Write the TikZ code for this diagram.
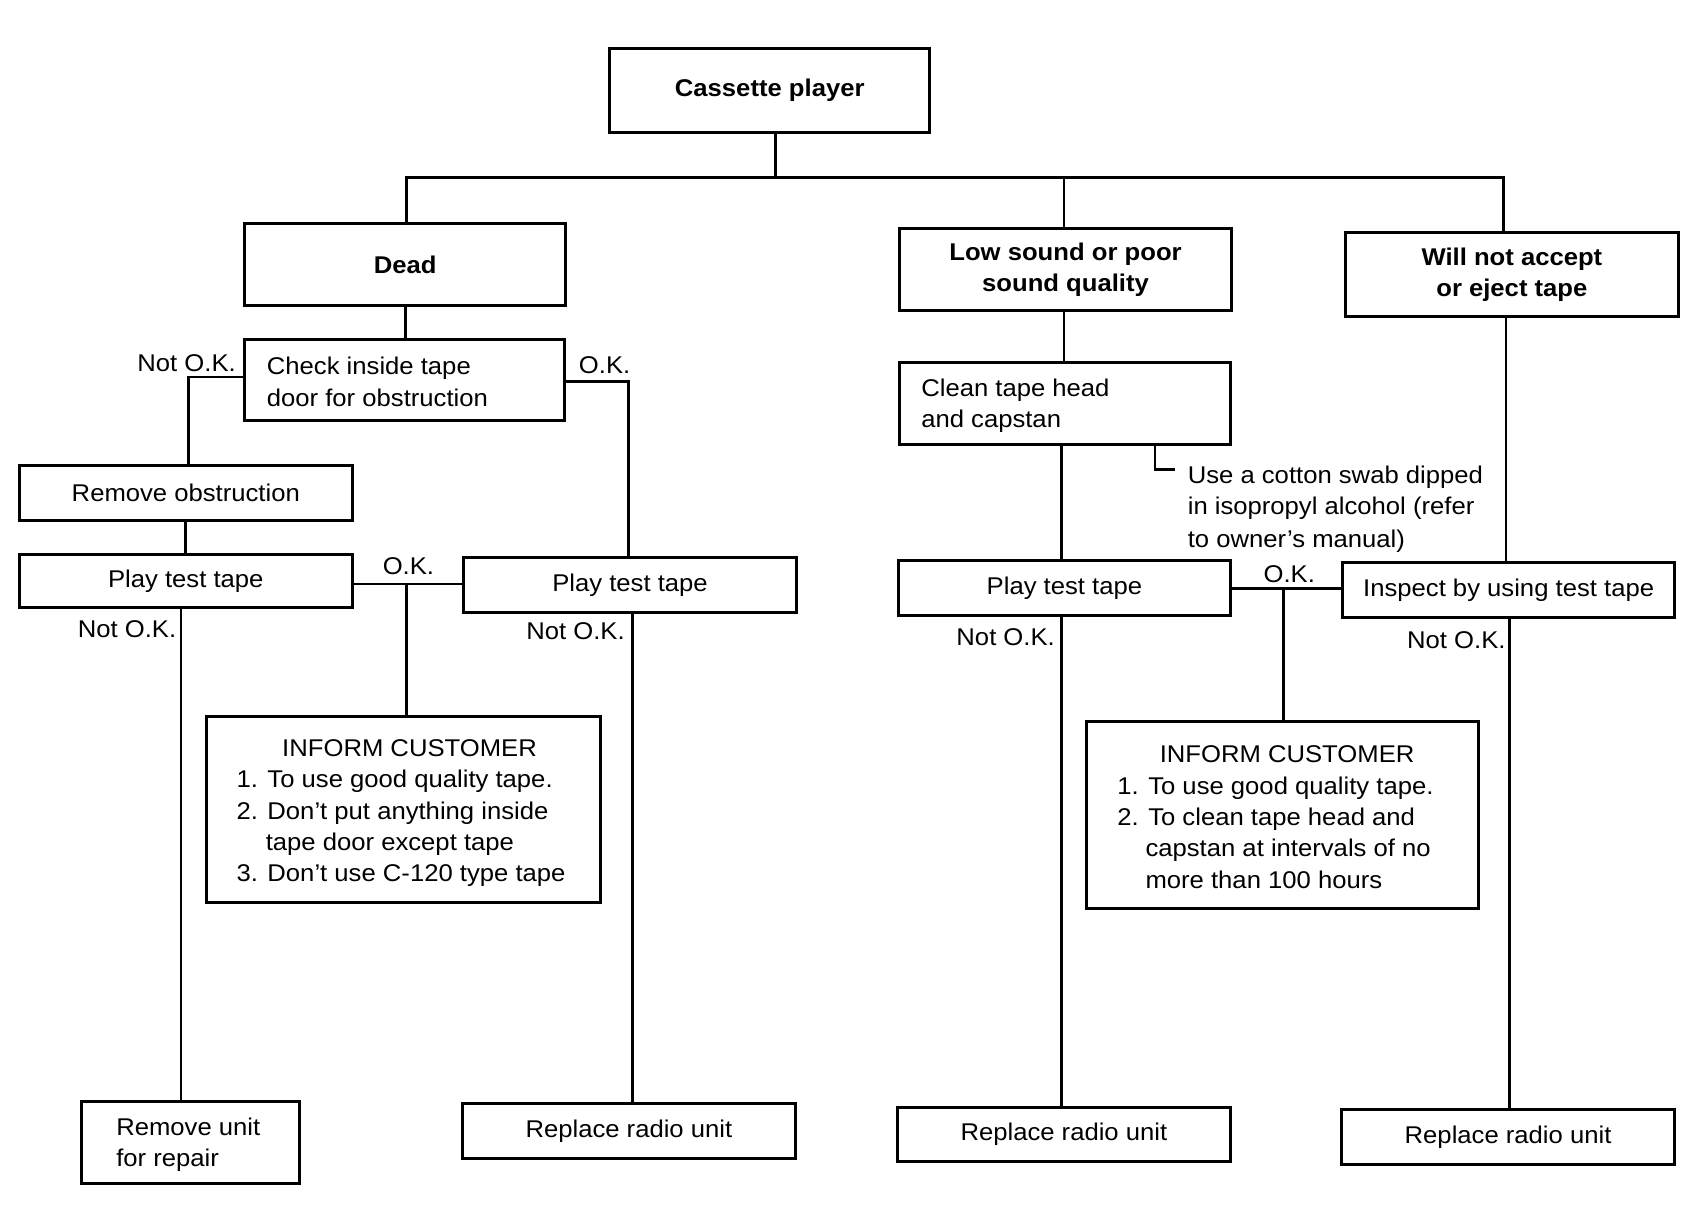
\documentclass[tikz,border=0pt]{standalone}
\usepackage{fontspec}
\setmainfont{Liberation Sans}[FakeStretch=1.06]
\newcommand\fsz{\fontsize{12.1pt}{15.8pt}\selectfont}
\newcommand\mybox[7]{%
  \pgfmathsetmacro\bw{(#4-#2)*0.5417}%
  \pgfmathsetmacro\bh{(#5-#3)*0.5417}%
  \node[boxst, minimum width=\bw pt, minimum height=\bh pt, #6] (#1) at ({(#2+#4)/2},{(#3+#5)/2}) {#7};}
\newcommand\tl[4]{\node[txt, anchor=base west] (#1) at (#2,#3) {#4};}
\begin{document}
\begin{tikzpicture}[x=0.5417pt,y=-0.5417pt,
  boxst/.style={draw, line width=1.5pt, inner sep=0pt, font=\fsz, align=center},
  hdr/.style={font=\fsz\bfseries},
  ln/.style={line width=1.4pt},
  txt/.style={inner sep=0pt, font=\fsz},
  lbl/.style={inner sep=0pt, font=\fsz}]
\useasboundingbox (0,0) rectangle (1567.3,1122.4);

% boxes
\mybox{cass}{563}{45}{858}{122}{hdr}{Cassette player}
\mybox{dead}{226}{206}{522}{282}{hdr}{Dead}
\mybox{check}{226}{313}{521}{388}{}{}
\mybox{remobs}{18}{430}{325}{480}{}{Remove obstruction}
\mybox{ptta}{18}{512}{325}{561}{}{Play test tape}
\mybox{pttb}{428}{515}{735}{565}{}{Play test tape}
\mybox{infa}{191}{661}{554}{833}{}{}
\mybox{remunit}{75}{1017}{276}{1092}{}{}
\mybox{repa}{427}{1019}{734}{1069}{}{Replace radio unit}
\mybox{low}{830}{211}{1137}{287}{hdr}{Low sound or poor\\sound quality}
\mybox{clean}{830}{335}{1136}{410}{}{}
\mybox{pttc}{829}{517}{1136}{568}{}{Play test tape}
\mybox{insp}{1239}{519}{1546}{570}{}{Inspect by using test tape}
\mybox{will}{1242}{215}{1549}{292}{hdr}{Will not accept\\or eject tape}
\mybox{infb}{1003}{666}{1365}{839}{}{}
\mybox{repc}{828}{1022}{1136}{1072}{}{Replace radio unit}
\mybox{repd}{1238}{1024}{1546}{1075}{}{Replace radio unit}

% texts inside boxes
\tl{chk1}{246}{346}{Check inside tape}
\tl{chk2}{246}{375}{door for obstruction}
\tl{cln1}{850}{366}{Clean tape head}
\tl{cln2}{850}{395}{and capstan}
\tl{ru1}{107}{1048}{Remove unit}
\tl{ru2}{107}{1077}{for repair}
\node[txt, anchor=base] (ia0) at (378,698) {INFORM CUSTOMER};
\tl{ia1}{218}{727}{1. To use good quality tape.}
\tl{ia2}{218}{756}{2. Don't put anything inside}
\tl{ia3}{245}{785}{tape door except tape}
\tl{ia4}{218}{814}{3. Don't use C-120 type tape}
\node[txt, anchor=base] (ib0) at (1188,704) {INFORM CUSTOMER};
\tl{ib1}{1031}{733}{1. To use good quality tape.}
\tl{ib2}{1031}{762}{2. To clean tape head and}
\tl{ib3}{1057}{791}{capstan at intervals of no}
\tl{ib4}{1057}{820}{more than 100 hours}
\tl{nt1}{1096}{446}{Use a cotton swab dipped}
\tl{nt2}{1096}{475}{in isopropyl alcohol (refer}
\tl{nt3}{1096}{505}{to owner's manual)}

% labels
\node[lbl, anchor=east] (nok1) at (218,335) {Not O.K.};
\node[lbl, anchor=west] (ok1) at (534,337) {O.K.};
\node[lbl] (ok2) at (377,523) {O.K.};
\node[lbl, anchor=east] (nok2) at (163,581) {Not O.K.};
\node[lbl, anchor=east] (nok3) at (577,583) {Not O.K.};
\node[lbl] (ok3) at (1190,530) {O.K.};
\node[lbl, anchor=east] (nok4) at (974,588) {Not O.K.};
\node[lbl, anchor=east] (nok5) at (1390,591) {Not O.K.};

% coordinates
\coordinate (h0) at (716,164);
\coordinate (h1) at (375,164);
\coordinate (h2) at (982,164);
\coordinate (h3) at (1388,164);
\coordinate (c1) at (174,348);
\coordinate (c2) at (580,352);
\coordinate (c3) at (375,539);
\coordinate (c4) at (167,561);
\coordinate (c5) at (584,565);
\coordinate (c6) at (1066,433);
\coordinate (c7) at (1085,433);
\coordinate (c8) at (1185,543);
\coordinate (c9) at (980,568);
\coordinate (c10) at (1393,570);
\coordinate (c11) at (1390,292);

% connectors
\draw[ln] (h0 |- cass.south) -- (h0);
\draw[ln] (h1 |- dead.north) -- (h1) -- (h3) -- (h3 |- will.north);
\draw[ln] (h2) -- (h2 |- low.north);
\draw[ln] (dead.south) -- (dead.south |- check.north);
\draw[ln] (check.west |- c1) -- (c1) -- (c1 |- remobs.north);
\draw[ln] (check.east |- c2) -- (c2) -- (c2 |- pttb.north);
\draw[ln] (remobs.south) -- (remobs.south |- ptta.north);
\draw[ln] (ptta.east |- c3) -- (pttb.west |- c3);
\draw[ln] (c3) -- (c3 |- infa.north);
\draw[ln] (c4 |- ptta.south) -- (c4 |- remunit.north);
\draw[ln] (c5 |- pttb.south) -- (c5 |- repa.north);
\draw[ln] (low.south -| h2) -- (h2 |- clean.north);
\draw[ln] (c6 |- clean.south) -- (c6) -- (c7);
\draw[ln] (c9 |- clean.south) -- (c9 |- pttc.north);
\draw[ln] (pttc.east |- c8) -- (insp.west |- c8);
\draw[ln] (c8) -- (c8 |- infb.north);
\draw[ln] (c11 |- will.south) -- (c11 |- insp.north);
\draw[ln] (c9 |- pttc.south) -- (c9 |- repc.north);
\draw[ln] (c10 |- insp.south) -- (c10 |- repd.north);
\end{tikzpicture}
\end{document}
